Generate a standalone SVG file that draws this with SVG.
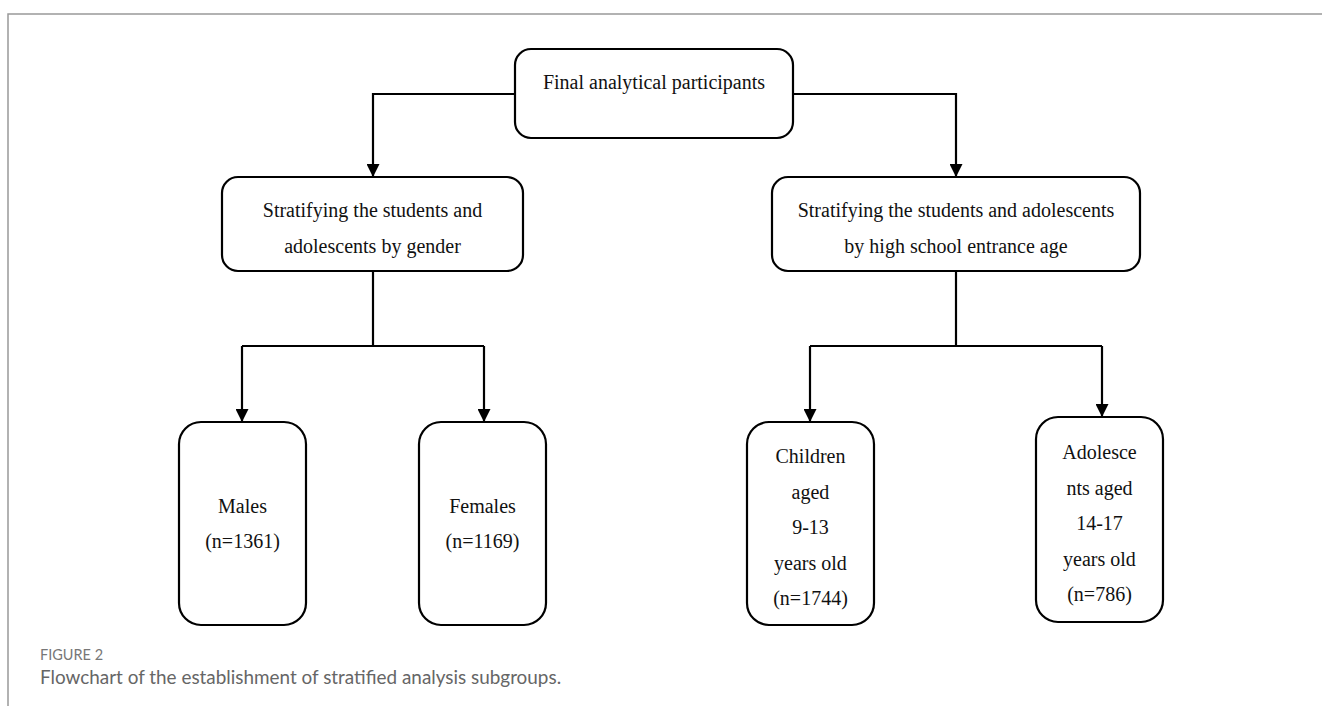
<svg xmlns="http://www.w3.org/2000/svg" width="1322" height="706" viewBox="0 0 1322 706">
<style>
.box{fill:#fff;stroke:#000;stroke-width:2.2}
.t{font-family:"Liberation Serif","Times New Roman",serif;font-size:20px;fill:#111;text-anchor:middle}
.c{fill:none;stroke:#000;stroke-width:2.2}
.frame{fill:none;stroke:#999;stroke-width:1.5}
.cap1{font-family:Lato,"Open Sans",sans-serif;font-size:14.5px;fill:#777}
.cap2{font-family:Lato,"Open Sans",sans-serif;font-size:18.9px;fill:#666}
</style>
<defs>
<marker id="arr" markerWidth="13" markerHeight="13" refX="13" refY="6.5" orient="auto" markerUnits="userSpaceOnUse">
<path d="M0,0 L13,6.5 L0,13 Z" fill="#000"/>
</marker>
</defs>
<rect width="1322" height="706" fill="#fff"/>
<path class="frame" d="M8,706 V14 H1322"/>
<g id="connectors">
<path class="c" d="M515,94 H373 V177" marker-end="url(#arr)"/>
<path class="c" d="M793,94 H956 V177" marker-end="url(#arr)"/>
<path class="c" d="M373,271 V346"/>
<path class="c" d="M242,346 H484"/>
<path class="c" d="M242,346 V422" marker-end="url(#arr)"/>
<path class="c" d="M484,346 V422" marker-end="url(#arr)"/>
<path class="c" d="M956,271 V346"/>
<path class="c" d="M810,346 H1102"/>
<path class="c" d="M810,346 V422" marker-end="url(#arr)"/>
<path class="c" d="M1102,346 V417" marker-end="url(#arr)"/>
</g>
<g id="final">
<rect class="box" x="515" y="49" width="278" height="89" rx="16"/>
<text class="t" x="654" y="89">Final analytical participants</text>
</g>
<g id="gender">
<rect class="box" x="222" y="177" width="301" height="94" rx="16"/>
<text class="t" x="372.5" y="217">Stratifying the students and</text>
<text class="t" x="372.5" y="253">adolescents by gender</text>
</g>
<g id="age">
<rect class="box" x="772" y="177" width="368" height="94" rx="16"/>
<text class="t" x="956" y="217">Stratifying the students and adolescents</text>
<text class="t" x="956" y="253">by high school entrance age</text>
</g>
<g id="males">
<rect class="box" x="179" y="422" width="127" height="203" rx="22"/>
<text class="t" x="242.5" y="513">Males</text>
<text class="t" x="242.5" y="548">(n=1361)</text>
</g>
<g id="females">
<rect class="box" x="419" y="422" width="127" height="203" rx="22"/>
<text class="t" x="482.5" y="513">Females</text>
<text class="t" x="482.5" y="548">(n=1169)</text>
</g>
<g id="children">
<rect class="box" x="747" y="422" width="127" height="203" rx="22"/>
<text class="t" x="810.5" y="463">Children</text>
<text class="t" x="810.5" y="499">aged</text>
<text class="t" x="810.5" y="534">9-13</text>
<text class="t" x="810.5" y="570">years old</text>
<text class="t" x="810.5" y="605">(n=1744)</text>
</g>
<g id="adolescents">
<rect class="box" x="1036" y="417" width="127" height="205" rx="22"/>
<text class="t" x="1099.5" y="459">Adolesce</text>
<text class="t" x="1099.5" y="495">nts aged</text>
<text class="t" x="1099.5" y="530">14-17</text>
<text class="t" x="1099.5" y="566">years old</text>
<text class="t" x="1099.5" y="601">(n=786)</text>
</g>
<g id="caption">
<text class="cap1" x="40" y="660">FIGURE 2</text>
<text class="cap2" x="40" y="684">Flowchart of the establishment of stratified analysis subgroups.</text>
</g>
</svg>
